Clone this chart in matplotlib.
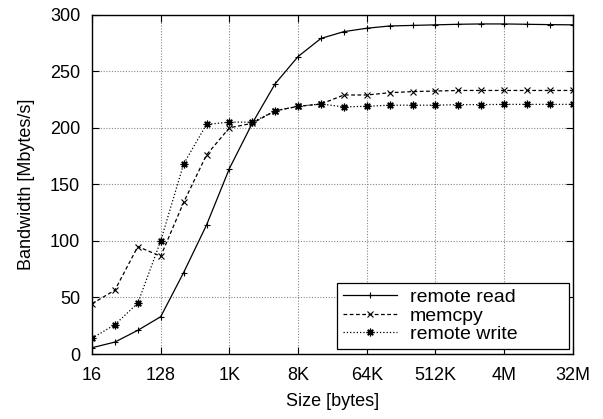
import matplotlib
matplotlib.use('Agg')
from matplotlib import pyplot as plt

sizes = [16, 32, 64, 128, 256, 512, 1024, 2048, 4096, 8192, 16384, 32768,
         65536, 131072, 262144, 524288, 1048576, 2097152, 4194304, 8388608,
         16777216, 33554432]
remote_read = [5.6, 10.6, 21, 33, 72, 114, 164, 204, 239, 263, 279, 285,
               288, 290, 290.5, 291, 291.5, 291.8, 291.8, 291.5, 291.2, 291]
memcpy = [44.5, 56.5, 95, 86.5, 134, 176, 200, 204, 215, 219, 221, 229,
          229, 231, 232, 232.5, 233, 233, 233, 233, 233, 233]
remote_write = [14, 26, 45, 100, 168, 203, 205, 205, 215, 219, 221, 218.5,
                219, 220, 220, 220, 220.5, 220.5, 220.7, 220.7, 220.7, 220.7]

tick_pos = [16, 128, 1024, 8192, 65536, 524288, 4194304, 33554432]
tick_lab = ['16', '128', '1K', '8K', '64K', '512K', '4M', '32M']

plt.rcParams['font.family'] = ['Liberation Sans', 'DejaVu Sans']
plt.rcParams['font.size'] = 13

fig = plt.figure(figsize=(6.03, 4.19), dpi=100)
ax = fig.add_axes([0.1526, 0.155, 0.7974, 0.810])

ax.plot(sizes, remote_read, 'k-', lw=0.9, marker='+', ms=5, mew=0.8,
        label='remote read')
ax.plot(sizes, memcpy, 'k--', lw=0.9, dashes=(3, 2), marker='x', ms=4.5,
        mew=0.8, label='memcpy')
ax.plot(sizes, remote_write, 'k:', lw=0.9, marker=(8, 2, 0), ms=5.5,
        mew=0.9, label='remote write')

ax.set_xscale('log', base=2)
ax.set_xlim(16, 33554432)
ax.set_ylim(0, 300)
ax.set_xticks(tick_pos)
ax.set_xticklabels(tick_lab)
ax.set_yticks(range(0, 301, 50))
ax.minorticks_off()
ax.tick_params(direction='in', length=5, width=0.8, top=True, right=True)
ax.tick_params(axis='x', pad=9)
ax.tick_params(axis='y', pad=8.5)
ax.grid(True, color='#888888', linestyle=(0, (1, 1.5)), linewidth=0.8)
for s in ax.spines.values():
    s.set_linewidth(1.0)

ax.set_xlabel('Size [bytes]', labelpad=7)
ax.set_ylabel('Bandwidth [Mbytes/s]', labelpad=11)

# gnuplot-style key: wide box, content left aligned
leg = ax.legend(loc='lower left', bbox_to_anchor=(0.509, 0.0147, 0.483, 0.18),
                mode='expand', fontsize=14, fancybox=False,
                edgecolor='black', framealpha=1, borderpad=0.3,
                handlelength=2.8, labelspacing=0.05, borderaxespad=0,
                handletextpad=0.65)
leg.get_frame().set_linewidth(0.9)

plt.savefig('out.png')
